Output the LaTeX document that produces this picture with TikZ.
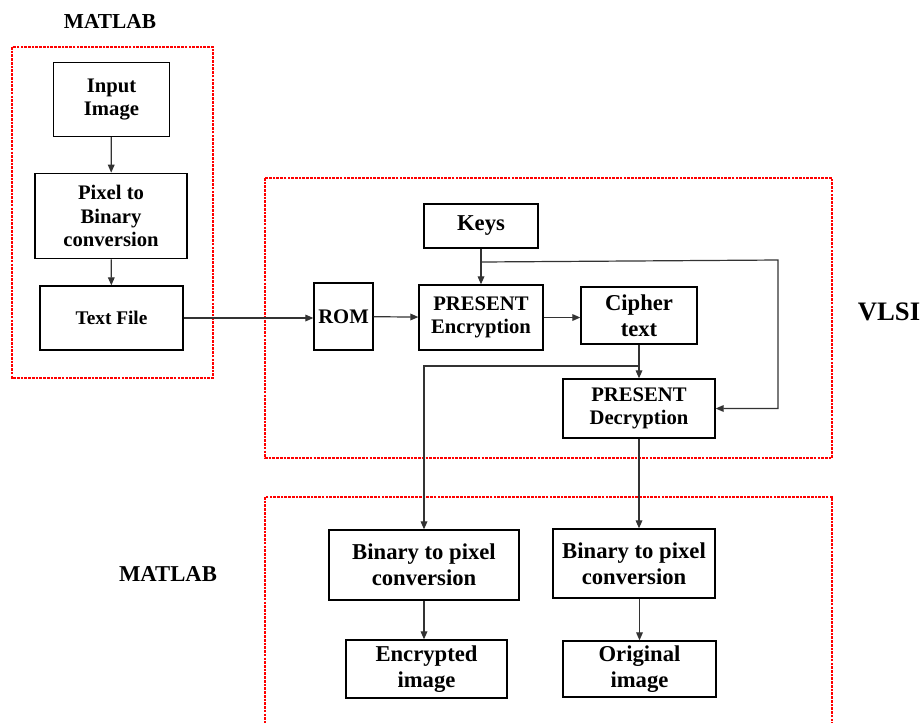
\documentclass[tikz,border=0pt]{standalone}
\usepackage{fontspec}
\setmainfont{Liberation Serif}
\usetikzlibrary{arrows.meta}

\tikzset{
  blk/.style={draw, line width=1pt, align=center, inner sep=1pt,
    font=\bfseries\fontsize{15.5}{17.5}\selectfont},
  bigtxt/.style={font=\bfseries\fontsize{17}{19.5}\selectfont},
  grp/.style={draw=red, line width=0.8pt, dash pattern=on 2pt off 0.8pt},
  arr/.style={draw=black!80, line width=0.9pt, -{Triangle[length=6pt,width=5pt]}},
}

\begin{document}
\begin{tikzpicture}[x=0.75pt,y=0.75pt,yscale=-1,xscale=1]
\useasboundingbox (0,0) rectangle (923,722);
			%Shape: Rectangle [MATLAB in]
			\draw[grp] (12,47) rectangle (213,378);
			%Shape: Rectangle [VLSI]
			\draw[grp] (265,178) rectangle (832,458);
			%Shape: Rectangle [MATLAB out]
			\draw[grp] (265,497) rectangle (832,740);
			% Text Node
			\node[font=\bfseries\fontsize{16}{18}\selectfont] (matin) at (110,21) {MATLAB};
			% Text Node
			\node[font=\bfseries\fontsize{20}{22}\selectfont] (vlsi) at (889,312) {VLSI};
			% Text Node
			\node[bigtxt] (matout) at (168,574) {MATLAB};
			% Blocks MATLAB
			\node[blk, minimum width=87pt, minimum height=55.5pt] (inp) at (111.5,99.5) {Input\\Image};
			\node[blk, minimum width=114pt, minimum height=64pt, font=\bfseries\fontsize{15.5}{17.6}\selectfont] (pix) at (111,216) {Pixel to\\Binary\\conversion};
			\node[blk, minimum width=107.25pt, minimum height=48pt, font=\bfseries\fontsize{14.5}{16}\selectfont] (txt) at (111.5,318) {Text File};
			% Blocks VLSI
			\node[blk, bigtxt, minimum width=85.5pt, minimum height=33pt] (keys) at (481,226) {Keys};
			\node[blk, minimum width=44.25pt, minimum height=50.25pt] (rom) at (343.5,316.5) {ROM};
			\node[blk, minimum width=93pt, minimum height=48.75pt] (enc) at (481,317.5) {PRESENT\\Encryption};
			\node[blk, bigtxt, minimum width=87pt, minimum height=42.75pt] (ciph) at (639,315.5) {Cipher\\text};
			\node[blk, minimum width=114pt, minimum height=44.25pt] (dec) at (639,408.5) {PRESENT\\Decryption};
			% Blocks MATLAB out
			\node[blk, bigtxt, minimum width=142.5pt, minimum height=52.5pt] (bpa) at (424,565) {Binary to pixel\\conversion};
			\node[blk, bigtxt, minimum width=121.5pt, minimum height=51.75pt] (bpb) at (634,563.5) {Binary to pixel\\conversion};
			\node[blk, bigtxt, minimum width=120.75pt, minimum height=43.5pt] (encimg) at (426.5,669) {Encrypted\\image};
			\node[blk, bigtxt, minimum width=114.75pt, minimum height=42pt] (orig) at (639.5,669) {Original\\image};
			% branch points
			\coordinate (kb) at (481,262);
			\coordinate (kturn) at (778,260);
			\coordinate (cb) at (639,366);
			%Straight Lines
			\draw[arr] (inp) -- (pix);
			\draw[arr] (pix) -- (txt);
			\draw[arr] (txt.east) -- (txt.east -| rom.west);
			\draw[arr] (rom) -- (enc);
			\draw[arr] (enc) -- (enc -| ciph.west);
			\draw[arr] (keys) -- (enc);
			\draw[arr] (kb) -- (kturn) -- (kturn |- dec.east) -- (dec.east);
			\draw[arr] (ciph) -- (dec);
			\draw[arr] (cb) -- (cb -| bpa.north) -- (bpa.north);
			\draw[arr] (dec.south) -- (dec.south |- bpb.north);
			\draw[arr] (bpa) -- (bpa |- encimg.north);
			\draw[arr] (bpb.south -| orig) -- (orig);
		\end{tikzpicture}
\end{document}
